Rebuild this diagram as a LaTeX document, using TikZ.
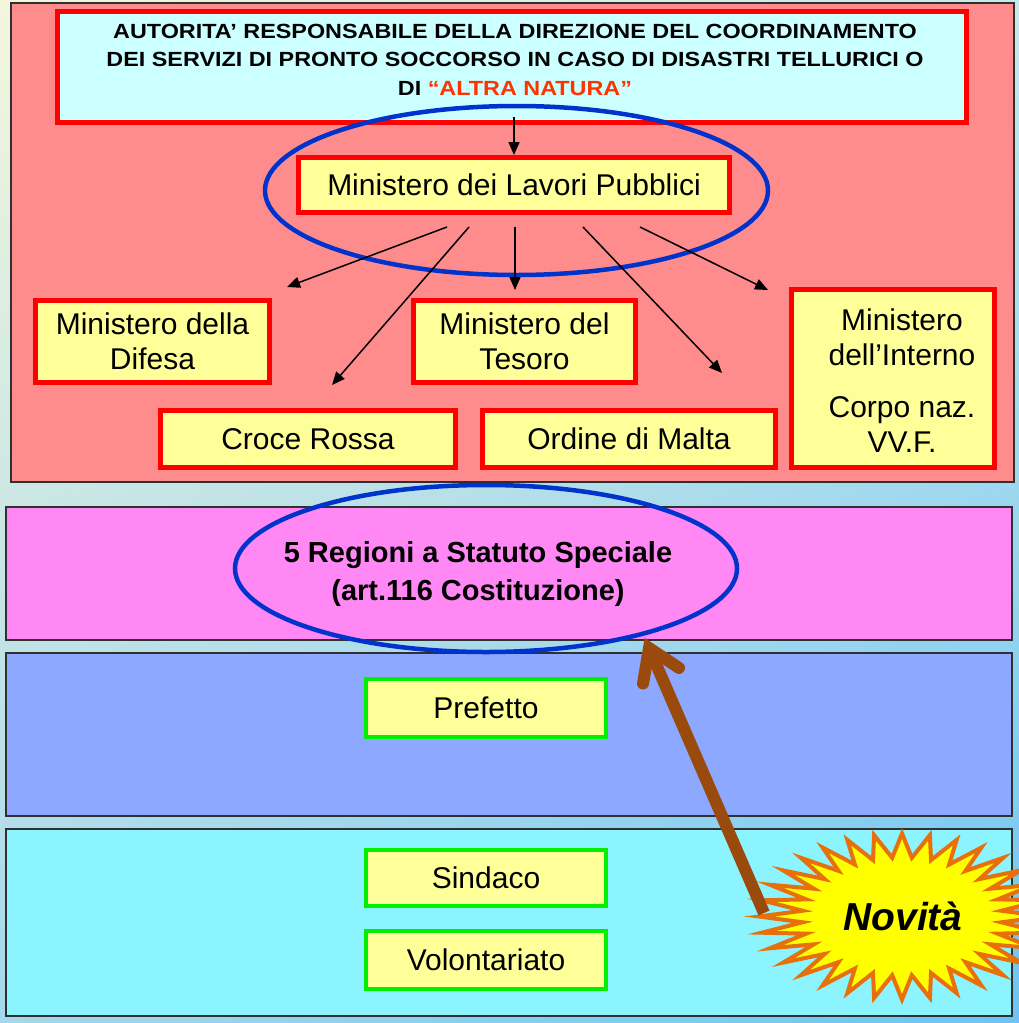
\documentclass[tikz,border=0pt]{standalone}
\usepackage{fontspec}
\setmainfont{Liberation Sans}
\newfontfamily\widefont{Liberation Sans}[FakeStretch=1.14]
\usetikzlibrary{arrows.meta,shapes.geometric,calc,shadings}
\definecolor{bgA}{HTML}{F4F6DC}
\definecolor{bgB}{HTML}{C8E8EC}
\definecolor{bgC}{HTML}{A4D8EC}
\definecolor{bgD}{HTML}{6CC4F4}
\definecolor{panelred}{HTML}{FF8C8C}
\definecolor{topcyan}{HTML}{CCFFFF}
\definecolor{boxyellow}{HTML}{FFFF99}
\definecolor{bandpink}{HTML}{FF88F4}
\definecolor{bandblue}{HTML}{8CA8FF}
\definecolor{bandcyan}{HTML}{8CF4FF}
\definecolor{boxgreen}{HTML}{00F000}
\definecolor{ellblue}{HTML}{0033CC}
\definecolor{altra}{HTML}{FF3300}
\definecolor{brownarr}{HTML}{9A4A0C}
\definecolor{starorange}{HTML}{E8700A}
\definecolor{starfill}{HTML}{FFFF00}
\definecolor{panelline}{HTML}{303030}
\begin{document}
\begin{tikzpicture}[x=1pt,y=-1pt,
  panel/.style={draw=panelline, line width=1.5pt},
  redbox/.style={draw=red, line width=5pt, fill=boxyellow, inner sep=0pt, align=center,
    font=\fontsize{30}{35}\selectfont},
  greenbox/.style={draw=boxgreen, line width=4pt, fill=boxyellow, inner sep=0pt, align=center,
    font=\fontsize{30}{35}\selectfont, minimum width=240pt},
  bigell/.style={draw=ellblue, line width=4.5pt, ellipse, inner sep=0pt},
  fan/.style={line width=1.5pt, -{Triangle[length=13pt,width=11pt]}}
]
\useasboundingbox (0,0) rectangle (1019,1023);
\clip (0,0) rectangle (1019,1023);
\shade[upper left=bgA, upper right=bgB, lower left=bgC, lower right=bgD] (0,0) rectangle (1019,1023);

% bands
\path[panel, fill=panelred] (11,3) rectangle (1014,482);
\path[panel, fill=bandpink] (6,507) rectangle (1012,640);
\path[panel, fill=bandblue] (6,653) rectangle (1012,816);
\path[panel, fill=bandcyan] (6,829) rectangle (1012,1016);

% top box
\node[redbox, fill=topcyan, minimum width=909pt, minimum height=111pt] (top) at (511.5,66.5) {};
\node[font=\widefont\bfseries\fontsize{20.5}{28.5}\selectfont, align=center, inner sep=0pt] (toptext) at (515,59.5)
  {AUTORITA’ RESPONSABILE DELLA DIREZIONE DEL COORDINAMENTO\\
   DEI SERVIZI DI PRONTO SOCCORSO IN CASO DI DISASTRI TELLURICI O\\
   DI \textcolor{altra}{“ALTRA NATURA”}};

% ministry boxes
\node[redbox, minimum width=431pt, minimum height=55pt] (mlp) at (514,185) {Ministero dei Lavori Pubblici};
\node[redbox, minimum width=234pt, minimum height=82pt] (difesa) at (152.5,341.5) {Ministero della\\Difesa};
\node[redbox, minimum width=222pt, minimum height=82pt] (tesoro) at (524.5,341.5) {Ministero del\\Tesoro};
\node[redbox, minimum width=203pt, minimum height=178pt] (interno) at (893,378.5) {};
\node[align=center, inner sep=0pt, font=\fontsize{30}{35}\selectfont] (internotext) at (902,381)
  {Ministero\\dell’Interno\\[17pt]Corpo naz.\\VV.F.};
\node[redbox, minimum width=295pt, minimum height=57pt] (croce) at (308,439) {Croce Rossa};
\node[redbox, minimum width=293pt, minimum height=57pt] (malta) at (629,439) {Ordine di Malta};

% ellipse round the Ministero dei Lavori Pubblici
\node[bigell, minimum width=503pt, minimum height=169pt] (ell1) at (516.5,190.5) {};

% arrows
\draw[fan] (mlp.north |- 0,117) -- (mlp.north);
\coordinate (s1) at (447,227); \coordinate (e1) at (287,287);
\coordinate (s2) at (469,227); \coordinate (e2) at (332,385);
\coordinate (s3) at (515,227); \coordinate (e3) at (515,290);
\coordinate (s4) at (583,227); \coordinate (e4) at (722,373);
\coordinate (s5) at (640,227); \coordinate (e5) at (768,290);
\draw[fan] (s1) -- (e1);
\draw[fan] (s2) -- (e2);
\draw[fan] (s3) -- (e3);
\draw[fan] (s4) -- (e4);
\draw[fan] (s5) -- (e5);

% regions
\node[bigell, minimum width=502pt, minimum height=167pt] (ell2) at (486,568.5) {};
\node[align=center, inner sep=0pt, font=\bfseries\fontsize{29}{38}\selectfont] (reg) at (478,574)
  {5 Regioni a Statuto Speciale\\(art.116 Costituzione)};

% lower boxes
\node[greenbox, minimum height=58pt] (prefetto) at (486,708) {Prefetto};
\node[greenbox, minimum height=56pt] (sindaco) at (486,878) {Sindaco};
\node[greenbox, minimum height=58pt] (volont) at (486,960) {Volontariato};

% starburst
\draw[draw=starorange, fill=starfill, line width=4pt, line join=miter]
  plot[samples at={0,...,63}, variable=\t]
  ({902+(mod(\t,2)==0 ? 143 : 100)*cos(90+\t*5.625)},
   {916.5-(mod(\t,2)==0 ? 83 : 59)*sin(90+\t*5.625)}) -- cycle;
\node[font=\bfseries\itshape\fontsize{39}{45}\selectfont, inner sep=0pt] (nov) at (903,916) {Novità};

% brown arrow
\coordinate (tail) at (764,913);
\coordinate (tip) at (649,648);
\coordinate (arm1) at ($(tip)!36pt!33:(tail)$);
\coordinate (arm2) at ($(tip)!36pt!-33:(tail)$);
\draw[brownarr, line width=12pt] (tail) -- ($(tip)!4pt!(tail)$);
\draw[brownarr, line width=12pt, line cap=round, line join=miter] (arm1) -- (tip) -- (arm2);
\end{tikzpicture}
\end{document}
